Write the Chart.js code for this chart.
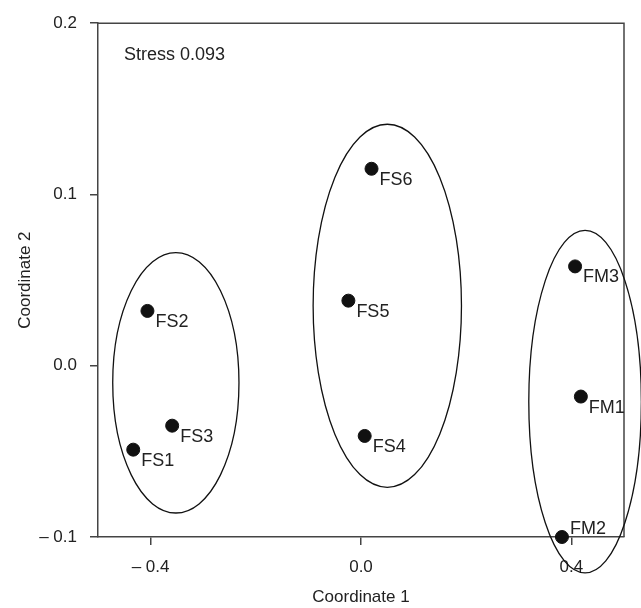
<!DOCTYPE html>
<html>
<head>
<meta charset="utf-8">
<script src="https://cdn.jsdelivr.net/npm/chart.js@4"></script>
<style>
  body { margin: 0; background: #fff; }
</style>
</head>
<body>
<canvas id="nmds" width="641" height="608"></canvas>
<script>
// samples and their NMDS coordinates
const sampleNames = ['FS1', 'FS2', 'FS3', 'FS4', 'FS5', 'FS6', 'FM1', 'FM2', 'FM3'];
const coord1 = [-0.433, -0.406, -0.359, 0.007, -0.024, 0.020, 0.418, 0.382, 0.407];
const coord2 = [-0.049, 0.032, -0.035, -0.041, 0.038, 0.115, -0.018, -0.100, 0.058];

// group ellipses (centre and half-widths in data units)
const groupCx = [-0.352, 0.050, 0.426];
const groupCy = [-0.010, 0.035, -0.021];
const groupRx = [0.120, 0.141, 0.107];
const groupRy = [0.076, 0.106, 0.100];

const xTicks = [-0.4, 0.0, 0.4];
const yTicks = [-0.1, 0.0, 0.1, 0.2];
const stressText = 'Stress 0.093';

const FONT = '"Liberation Sans", Arial, sans-serif';
const INK = '#222';
const AXIS = '#444';

function fmt(v) {
    if (Math.abs(v) < 1e-9) return '0.0';
    return v < 0 ? '\u2013 ' + Math.abs(v).toFixed(1) : v.toFixed(1);
}

// frame, ellipses, stress text and point labels
const decorations = {
    id: 'decorations',
    afterDatasetsDraw(chart) {
        const ctx = chart.ctx;
        const a = chart.chartArea;
        const xs = chart.scales.x, ys = chart.scales.y;
        ctx.save();

        // top and right frame
        ctx.strokeStyle = AXIS;
        ctx.lineWidth = 1.5;
        ctx.beginPath();
        ctx.moveTo(a.left, a.top);
        ctx.lineTo(a.right, a.top);
        ctx.lineTo(a.right, a.bottom);
        ctx.stroke();

        // group ellipses
        ctx.strokeStyle = '#111';
        ctx.lineWidth = 1.3;
        for (let i = 0; i < groupCx.length; i++) {
            const cx = xs.getPixelForValue(groupCx[i]);
            const cy = ys.getPixelForValue(groupCy[i]);
            const rx = Math.abs(xs.getPixelForValue(groupCx[i] + groupRx[i]) - cx);
            const ry = Math.abs(ys.getPixelForValue(groupCy[i] + groupRy[i]) - cy);
            ctx.beginPath();
            ctx.ellipse(cx, cy, rx, ry, 0, 0, Math.PI * 2);
            ctx.stroke();
        }

        // stress
        ctx.fillStyle = INK;
        ctx.font = '18px ' + FONT;
        ctx.textAlign = 'left';
        ctx.textBaseline = 'middle';
        ctx.fillText(stressText, a.left + 26, a.top + 32);

        // sample labels
        const pts = chart.getDatasetMeta(0).data;
        pts.forEach((p, i) => {
            let ty = p.y + 11;
            if (ty + 8 > a.bottom) ty = p.y - 8;
            ctx.fillText(sampleNames[i], p.x + 8, ty);
        });
        ctx.restore();
    }
};

new Chart(document.getElementById('nmds'), {
    type: 'scatter',
    data: {
        datasets: [{
            data: coord1.map((x, i) => ({x: x, y: coord2[i]})),
            backgroundColor: '#111',
            borderColor: '#111',
            pointRadius: 6.5,
            pointHoverRadius: 6.5,
            clip: false
        }]
    },
    options: {
        responsive: false,
        animation: false,
        layout: {padding: {top: 22, right: 17, left: 0, bottom: 0}},
        plugins: {legend: {display: false}, tooltip: {enabled: false}},
        scales: {
            x: {
                type: 'linear',
                min: -0.5,
                max: 0.5,
                afterBuildTicks: s => { s.ticks = xTicks.map(v => ({value: v})); },
                afterFit: s => { s.height = 71; },
                ticks: {callback: fmt, color: INK, padding: 12, maxRotation: 0,
                        font: {family: FONT, size: 17}},
                grid: {drawOnChartArea: false, drawTicks: true, tickLength: 8,
                       color: AXIS, lineWidth: 1.5},
                border: {display: true, color: AXIS, width: 1.5},
                title: {display: true, text: 'Coordinate 1', color: INK,
                        font: {family: FONT, size: 17}, padding: {top: 0, bottom: 0}}
            },
            y: {
                type: 'linear',
                min: -0.1,
                max: 0.2,
                afterBuildTicks: s => { s.ticks = yTicks.map(v => ({value: v})); },
                afterFit: s => { s.width = 98; },
                ticks: {callback: fmt, color: INK, padding: 13,
                        font: {family: FONT, size: 17}},
                grid: {drawOnChartArea: false, drawTicks: true, tickLength: 8,
                       color: AXIS, lineWidth: 1.5},
                border: {display: true, color: AXIS, width: 1.5},
                title: {display: true, text: 'Coordinate 2', color: INK,
                        font: {family: FONT, size: 17}, padding: {top: 15, bottom: 0}}
            }
        }
    },
    plugins: [decorations]
});
</script>
</body>
</html>
